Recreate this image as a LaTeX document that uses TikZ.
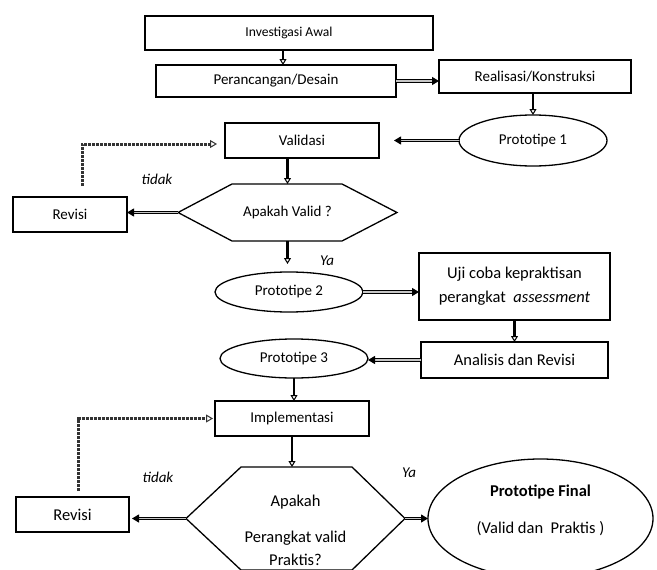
\documentclass[tikz,border=0pt]{standalone}
\usepackage{fontspec}
\setmainfont{Carlito}
\usetikzlibrary{positioning,shapes.geometric,arrows.meta}

\begin{document}
\begin{tikzpicture}[x=1pt,y=-1pt,outer sep=0pt,
	box/.style={draw, line width=1.3pt, inner sep=0pt, align=center, font=\fontsize{15}{18}\selectfont},
	oval/.style={draw, ellipse, line width=1.3pt, inner sep=0pt, minimum width=148pt, font=\fontsize{15}{18}\selectfont},
	lbl/.style={font=\fontsize{15}{18}\selectfont\itshape},
	downarr/.style={draw=black, line width=2.4pt, -{Triangle[open,length=6pt,width=7pt,line width=1pt]}},
	sidearr/.style={line width=1.1pt, double=gray!45, double distance=1.2pt, -{Triangle[length=7pt,width=8pt]}},
	dotarr/.style={draw=black!80, line width=3pt, dash pattern=on 3pt off 1pt, -{Triangle[open,length=7pt,width=8pt,line width=1pt]}}]
				\useasboundingbox (0,0) rectangle (657,570);
				\node[box, minimum width=288pt, minimum height=34pt, font=\fontsize{13.6}{16}\selectfont] (inv) at (289,33) {Investigasi Awal};
				\node[box, minimum width=240pt, minimum height=32pt, below=15pt of inv, xshift=-13pt] (design) {Perancangan/Desain};
				\node[box, minimum width=192pt, minimum height=33pt, right=43pt of design, yshift=4.5pt] (real) {Realisasi/Konstruksi};
				\node[oval, minimum height=51pt, below=22pt of real, xshift=-2pt] (proto1) {Prototipe 1};
				\node[box, minimum width=154pt, minimum height=35pt, left=80pt of proto1] (valid) {Validasi};
				\node[minimum width=219pt, minimum height=57pt, inner sep=0pt, font=\fontsize{15}{18}\selectfont, below=26pt of valid, xshift=-14.5pt] (h1) {Apakah Valid ?};
				\draw[line width=1.3pt] (h1.west) -- ([xshift=54pt]h1.north west) -- ([xshift=-55pt]h1.north east) -- (h1.east) -- ([xshift=-55pt]h1.south east) -- ([xshift=54pt]h1.south west) -- cycle;
				\node[box, minimum width=114pt, minimum height=35pt, left=51pt of h1, yshift=-2pt] (rev1) {Revisi};
				\node[oval, minimum height=40pt, below=31pt of h1, xshift=1.5pt] (proto2) {Prototipe 2};
				\node[box, minimum width=191pt, minimum height=67pt, font=\fontsize{16.5}{24}\selectfont, right=56pt of proto2, yshift=5.5pt] (uji) {Uji coba kepraktisan\\perangkat\ \ \textit{assessment}};
				\node[box, minimum width=187pt, minimum height=36pt, font=\fontsize{16.5}{20}\selectfont, below=22pt of uji] (anal) {Analisis dan Revisi};
				\node[oval, minimum height=39pt, left=53pt of anal, yshift=1.5pt] (proto3) {Prototipe 3};
				\node[box, minimum width=154pt, minimum height=35pt, below=23pt of proto3, xshift=-2pt] (impl) {Implementasi};
				\node[minimum width=219pt, minimum height=103pt, inner sep=0pt, below=31pt of impl, xshift=3.5pt] (h2) {};
				\draw[line width=1.3pt] (h2.west) -- ([xshift=55pt]h2.north west) -- ([xshift=-53pt]h2.north east) -- (h2.east) -- ([xshift=-53pt]h2.south east) -- ([xshift=55pt]h2.south west) -- cycle;
				\node[align=center, font=\fontsize{16.5}{23}\selectfont] (h2text) at ([yshift=-12pt]h2.center) {Apakah\\[13pt]Perangkat valid\\Praktis?};
				\node[box, minimum width=113pt, minimum height=35pt, font=\fontsize{16.5}{20}\selectfont, left=57pt of h2, yshift=4pt] (rev2) {Revisi};
				\node[oval, minimum width=225pt, minimum height=119pt, right=23pt of h2] (final) {};
				\node[align=center, font=\fontsize{16.5}{20}\selectfont] (finaltext) at ([yshift=8pt]final.center) {\textbf{Prototipe Final}\\[17pt](Valid dan\ \ Praktis )};
				\node[lbl] (no1) at (157,179) {tidak};
				\node[lbl] (yes1) at (327,261) {Ya};
				\node[lbl] (no2) at (158,477) {tidak};
				\node[lbl] (yes2) at (409,473) {Ya};
				\draw[downarr] ([xshift=-6pt]inv.south) -- ([xshift=-6pt]inv.south |- design.north);
				\draw[sidearr] (design.east) -- (design.east -| real.west);
				\draw[downarr] (proto1.north |- real.south) -- (proto1.north);
				\draw[sidearr] (proto1.west) -- ([xshift=15pt]proto1.west -| valid.east);
				\draw[downarr] (h1.north |- valid.south) -- (h1.north);
				\draw[sidearr] (h1.west) -- (h1.west -| rev1.east);
				\draw[downarr] (h1.south) -- ([yshift=8pt]h1.south |- proto2.north);
				\draw[sidearr] (proto2.east) -- (proto2.east -| uji.west);
				\draw[downarr] (uji.south) -- (anal.north);
				\draw[sidearr] (anal.west) -- (anal.west -| proto3.east);
				\draw[downarr] (proto3.south) -- (proto3.south |- impl.north);
				\draw[downarr] (impl.south) -- (impl.south |- h2.north);
				\draw[sidearr] (h2.west) -- ([xshift=3pt]h2.west -| rev2.east);
				\draw[sidearr] (h2.east) -- (final.west);
				\draw[dotarr] ([xshift=12pt,yshift=11pt]rev1.north) |- ([xshift=-8pt,yshift=-3.5pt]valid.west);
				\draw[dotarr] ([xshift=5.5pt,yshift=6pt]rev2.north) |- ([xshift=-2pt]impl.west);
			\end{tikzpicture}
\end{document}
